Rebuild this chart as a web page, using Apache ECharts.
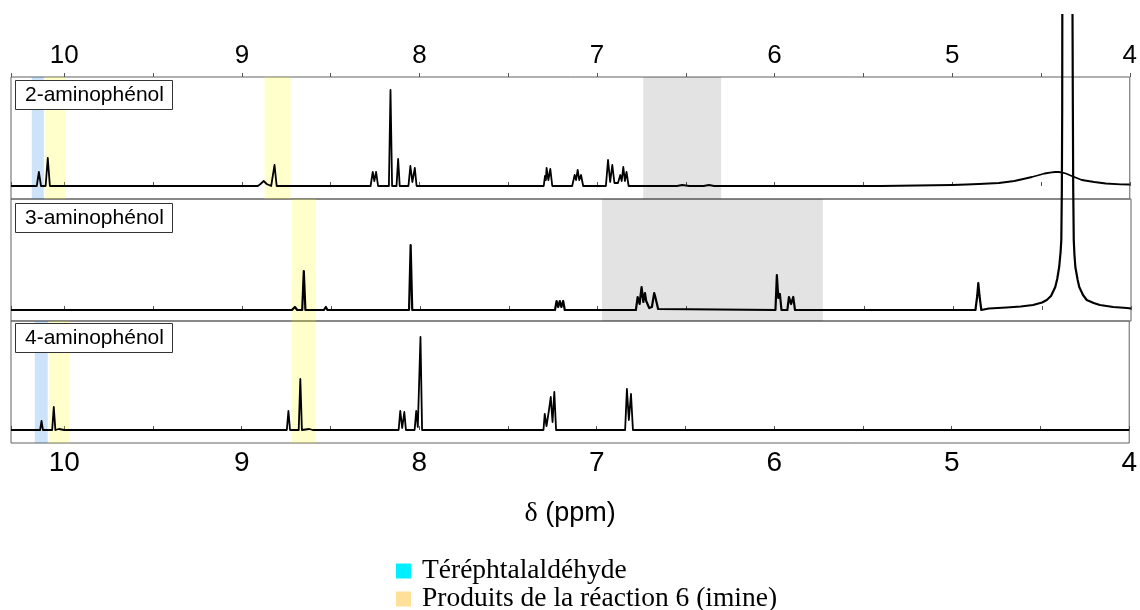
<!DOCTYPE html>
<html><head><meta charset="utf-8">
<script src="https://cdn.jsdelivr.net/npm/echarts@6/dist/echarts.min.js"></script>
<style>html,body{margin:0;padding:0;background:#fff}#c{width:1140px;height:610px}</style>
</head><body><div id="c"></div>
<script>
// ---- data ----
const panelNames = ['2-aminophénol', '3-aminophénol', '4-aminophénol'];
const legendNames = ['Téréphtalaldéhyde', 'Produits de la réaction 6 (imine)'];
const axisMin = 4, axisMax = 10.3, tickStep = 0.5;

// [ppm, intensity]
const spec2 = [
  [10.30,0],[10.155,0],[10.143,14],[10.131,0],[10.105,0],[10.093,28],[10.081,0],
  [10.022,0],[10.014,2],[10.006,0],
  [8.91,0],[8.895,2],[8.877,5],[8.86,2],[8.835,0],[8.828,0],[8.816,21],[8.804,0],
  [8.54,0],[8.535,2],[8.53,0],
  [8.275,0],[8.263,14],[8.254,5],[8.244,14],[8.233,0],
  [8.172,0],[8.163,96],[8.154,0],[8.129,0],[8.120,27],[8.111,0],
  [8.062,0],[8.051,20],[8.040,4],[8.026,18],[8.016,0],
  [7.80,0],[7.79,1],[7.78,0],
  [7.30,0],[7.293,10],[7.288,6],[7.284,18],[7.274,6],[7.263,17],[7.252,0],
  [7.14,0],[7.126,11],[7.118,6],[7.109,16],[7.100,6],[7.090,11],[7.078,0],
  [6.95,0],[6.938,26],[6.926,4],[6.914,21],[6.902,3],[6.882,3],[6.869,11],[6.861,5],
  [6.852,19],[6.843,5],[6.834,14],[6.822,0],
  [6.55,0],[6.52,1],[6.48,0],[6.40,0],[6.37,1],[6.34,0],
  [5.4,0],[5.2,0.5],[5.0,1],[4.92,1.5],[4.85,2],[4.737,3],[4.65,5],[4.60,7],[4.551,9],[4.51,11],[4.48,12.5],
  [4.44,13.6],[4.42,14],[4.399,14],[4.38,13.4],[4.36,12.5],[4.32,9.5],[4.27,6],[4.2,4],[4.135,2.5],[4.05,1.7],[4.0,1.5]
];
const spec3 = [
  [10.30,0],[10.10,0],[10.09,2],[10.08,0],
  [8.72,0],[8.703,3],[8.69,0],[8.662,0],[8.653,39],[8.644,0],
  [8.54,0],[8.529,3],[8.52,0],
  [8.061,0],[8.052,65],[8.043,0],
  [7.24,0],[7.231,9],[7.222,3],[7.213,9],[7.204,3],[7.194,9],[7.185,0],
  [6.785,0],[6.775,13],[6.764,6],[6.753,23],[6.743,8],[6.734,17],[6.727,9],[6.721,10],
  [6.71,2],[6.695,3],[6.682,17],[6.677,14],[6.672,12],[6.66,1],[6.65,0],
  [6.00,0],[5.992,35],[5.984,12],[5.975,16],[5.966,0],
  [5.933,0],[5.924,13],[5.912,6],[5.900,13],[5.89,0],
  [4.875,0],[4.865,14],[4.859,27],[4.852,14],[4.842,0],
  [4.80,1.5],[4.70,2.5],[4.62,3.5],[4.551,5],[4.50,7.5],[4.474,10],[4.45,14],[4.426,23],[4.415,31],
  [4.404,43],[4.396,58],[4.392,70],[4.389,120],[4.387,200],[4.386,340],
  [4.330,340],[4.327,200],[4.325,120],[4.322,70],[4.318,55],[4.313,43],[4.30,30],[4.291,23],[4.27,15],
  [4.249,10],[4.21,7],[4.175,5],[4.10,3],[4.023,2],[4.0,1.5]
];
const spec4 = [
  [10.30,0],[10.136,0],[10.128,9],[10.12,0],
  [10.068,0],[10.059,23],[10.05,0],[10.03,1],[10.0,0],
  [8.746,0],[8.737,19],[8.728,0],[8.679,0],[8.670,51],[8.661,0],[8.62,1],[8.60,0],
  [8.116,0],[8.107,19],[8.096,2],[8.084,18],[8.075,0],
  [8.026,0],[8.017,19],[8.008,3],[7.993,93],[7.984,0],
  [7.30,0],[7.293,16],[7.283,4],[7.269,20],[7.259,33],[7.249,8],[7.239,38],[7.229,0],
  [6.84,0],[6.830,41],[6.819,10],[6.807,36],[6.796,0],
  [4.0,0]
];
// shaded bands [from ppm, to ppm, kind]
const bands2 = [[10.183,10.115,'blue'],[10.110,9.992,'yellow'],[8.872,8.726,'yellow'],[6.740,6.301,'gray']];
const bands3 = [[8.720,8.585,'yellow'],[6.976,5.733,'gray']];
const bands4 = [[10.166,10.093,'blue'],[10.087,9.969,'yellow'],[8.720,8.585,'yellow']];

// ---- chart ----
const spectra = [spec2, spec3, spec4];
const bands = [bands2, bands3, bands4];
const gridTops = [77, 199, 321];
const gridH = 122;
const yRanges = [[-13, 109], [-11, 111], [-13, 109]];
const lineWidths = [1.8, 2.2, 1.8];
const bandColors = { blue: 'rgba(0,115,230,0.2)', yellow: 'rgba(255,255,0,0.2)', gray: 'rgba(0,0,0,0.11)' };
const legendColors = { blue: '#00f0ff', yellow: '#ffe099' };
const bandNames = { blue: legendNames[0], yellow: legendNames[1], gray: 'gray' };
const sans = 'Liberation Sans, Arial, sans-serif';
const serif = 'Liberation Serif, Times New Roman, serif';
const intLabel = v => (Math.abs(v - Math.round(v)) < 1e-9 ? String(Math.round(v)) : '');

const grid = gridTops.map(t => ({ left: 11, right: 9, top: t, height: gridH, show: true, borderColor: '#606060', borderWidth: 1 }));
const xAxis = [];
for (let i = 0; i < 3; i++) {
  xAxis.push({
    type: 'value', gridIndex: i, min: axisMin, max: axisMax, interval: tickStep, inverse: true,
    position: 'bottom', axisLine: { show: false }, splitLine: { show: false },
    axisTick: { show: true, inside: true, length: 4, lineStyle: { color: '#555' } },
    axisLabel: i === 2 ? { show: true, formatter: intLabel, fontFamily: sans, fontSize: 28, color: '#000', margin: 6 } : { show: false },
    name: i === 2 ? '{d|δ} (ppm)' : '', nameLocation: 'middle', nameGap: 57,
    nameTextStyle: { fontFamily: sans, fontSize: 27, color: '#000', rich: { d: { fontFamily: serif, fontSize: 28, color: '#000' } } }
  });
}
xAxis.push({
  type: 'value', gridIndex: 0, min: axisMin, max: axisMax, interval: tickStep, inverse: true,
  position: 'top', axisLine: { show: false }, splitLine: { show: false },
  axisTick: { show: true, inside: false, length: 4, lineStyle: { color: '#555' } },
  axisLabel: { show: true, formatter: intLabel, fontFamily: sans, fontSize: 26, color: '#000', margin: 8 }
});
const yAxis = yRanges.map((r, i) => ({ type: 'value', gridIndex: i, min: r[0], max: r[1], show: false }));

const series = [];
spectra.forEach((d, i) => {
  series.push({
    type: 'line', xAxisIndex: i, yAxisIndex: i, data: d, showSymbol: false, symbol: 'none',
    clip: i !== 1, silent: true, z: 2,
    lineStyle: { color: '#000', width: lineWidths[i], join: 'round' }
  });
});
bands.forEach((bs, i) => {
  ['blue', 'yellow', 'gray'].forEach(kind => {
    const sel = bs.filter(b => b[2] === kind);
    if (!sel.length) return;
    series.push({
      type: 'line', name: bandNames[kind], xAxisIndex: i, yAxisIndex: i, data: [], z: 3, silent: true,
      itemStyle: { color: legendColors[kind] || '#ccc' }, lineStyle: { color: legendColors[kind] || '#ccc' },
      markArea: { silent: true, itemStyle: { color: bandColors[kind] }, data: sel.map(b => [{ xAxis: b[0] }, { xAxis: b[1] }]) }
    });
  });
});

const boxTops = [80, 203, 323];
const graphic = [{ type: 'rect', shape: { x: 0, y: 0, width: 1140, height: 14 }, style: { fill: '#fff' }, z: 100 }];
panelNames.forEach((n, i) => {
  graphic.push({ type: 'rect', shape: { x: 15.5, y: boxTops[i] + 0.5, width: 157, height: 29 }, style: { fill: '#fff', stroke: '#333', lineWidth: 1 }, z: 100 });
  graphic.push({ type: 'text', x: 25, y: boxTops[i] + 15, style: { text: n, font: '21px ' + sans, fill: '#000', verticalAlign: 'middle' }, z: 101 });
});

const chart = echarts.init(document.getElementById('c'));
chart.setOption({
  animation: false,
  backgroundColor: '#fff',
  grid, xAxis, yAxis, series, graphic,
  legend: {
    orient: 'vertical', left: 396, top: 557, height: 90, padding: 0, itemWidth: 15, itemHeight: 15, itemGap: 0, selectedMode: false,
    data: [
      { name: legendNames[0], icon: 'rect', itemStyle: { color: legendColors.blue } },
      { name: legendNames[1], icon: 'rect', itemStyle: { color: legendColors.yellow } }
    ],
    textStyle: { fontFamily: serif, fontSize: 27.5, color: '#000', lineHeight: 27, padding: [0, 0, 0, 6] }
  }
});
</script></body></html>
